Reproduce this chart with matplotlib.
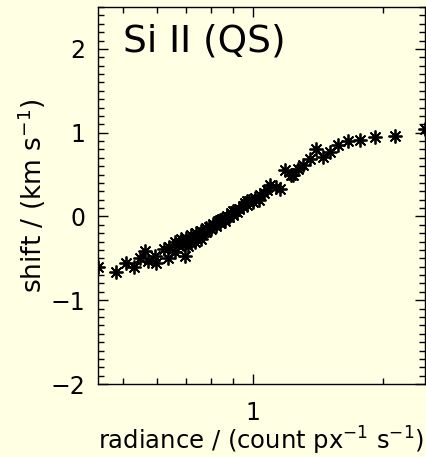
import matplotlib
matplotlib.use('Agg')
import matplotlib.pyplot as plt
import matplotlib.ticker as ticker

# radiance (count px^-1 s^-1) and Doppler shift (km/s)
radiance = [0.438, 0.483, 0.509, 0.532, 0.547, 0.562, 0.571, 0.592, 0.598,
            0.624, 0.636, 0.659, 0.677, 0.695, 0.707, 0.733, 0.759,
            0.64, 0.66, 0.67, 0.68, 0.69, 0.70, 0.71, 0.72, 0.73, 0.74,
            0.75, 0.76, 0.77, 0.78, 0.79, 0.80, 0.81, 0.82, 0.83, 0.84,
            0.85, 0.86, 0.87, 0.88, 0.89, 0.90, 0.91, 0.92, 0.93, 0.95,
            0.96, 0.97, 0.98, 1.00, 1.01, 1.03, 1.04, 1.06, 1.08,
            0.72, 0.78, 0.84, 0.90, 0.97,
            1.093, 1.133, 1.153, 1.184, 1.227, 1.24, 1.271, 1.306, 1.353,
            1.402, 1.452, 1.505, 1.573, 1.659, 1.772, 1.913, 2.128, 2.50]
shift = [-0.60, -0.66, -0.56, -0.60, -0.49, -0.41, -0.53, -0.47, -0.56,
         -0.39, -0.49, -0.43, -0.31, -0.47, -0.35, -0.31, -0.27,
         -0.36, -0.30, -0.34, -0.27, -0.31, -0.26, -0.29, -0.22, -0.25, -0.20,
         -0.23, -0.17, -0.19, -0.14, -0.12, -0.15, -0.09, -0.11, -0.06, -0.08,
         -0.03, -0.05, 0.01, -0.01, 0.04, 0.02, 0.07, 0.05, 0.09, 0.12,
         0.16, 0.14, 0.19, 0.17, 0.22, 0.20, 0.26, 0.28, 0.31,
         -0.31, -0.19, -0.04, 0.06, 0.18,
         0.37, 0.35, 0.33, 0.55, 0.49, 0.49, 0.57, 0.61, 0.69,
         0.81, 0.71, 0.77, 0.85, 0.90, 0.91, 0.95, 0.96, 1.04]

bg = '#ffffe4'
plt.rcParams['font.family'] = 'DejaVu Sans'

fig = plt.figure(figsize=(4.27, 4.57), dpi=100, facecolor=bg)
ax = fig.add_axes([0.2295, 0.1597, 0.7658, 0.825], facecolor=bg)

ax.plot(radiance, shift, linestyle='none', marker=(8, 2, 0), markersize=10,
        markeredgewidth=1.3, color='black', clip_on=True)

ax.set_xscale('log')
ax.set_xlim(0.438, 2.5)
ax.set_ylim(-2, 2.5)

ax.xaxis.set_major_locator(ticker.FixedLocator([1]))
ax.xaxis.set_major_formatter(ticker.FixedFormatter(['1']))
ax.xaxis.set_minor_locator(ticker.FixedLocator([0.5, 0.6, 0.7, 0.8, 0.9, 2]))
ax.xaxis.set_minor_formatter(ticker.NullFormatter())
ax.yaxis.set_major_locator(ticker.MultipleLocator(1))
ax.yaxis.set_minor_locator(ticker.MultipleLocator(0.1))

ax.tick_params(which='both', direction='in', top=True, right=True,
               width=1, color='black', labelsize=17)
ax.tick_params(which='major', length=7)
ax.tick_params(which='minor', length=4)
ax.tick_params(axis='x', pad=12)
ax.tick_params(axis='y', pad=9)
for s in ax.spines.values():
    s.set_linewidth(1)

ax.text(0.075, 0.955, 'Si II (QS)', transform=ax.transAxes, fontsize=27,
        va='top', ha='left')

ax.set_xlabel('radiance / (count px$^{-1}$ s$^{-1}$)', fontsize=17.5,
              labelpad=0)
ax.set_ylabel('shift / (km s$^{-1}$)', fontsize=19, labelpad=2)

fig.savefig('out.png', dpi=100, facecolor=bg)
